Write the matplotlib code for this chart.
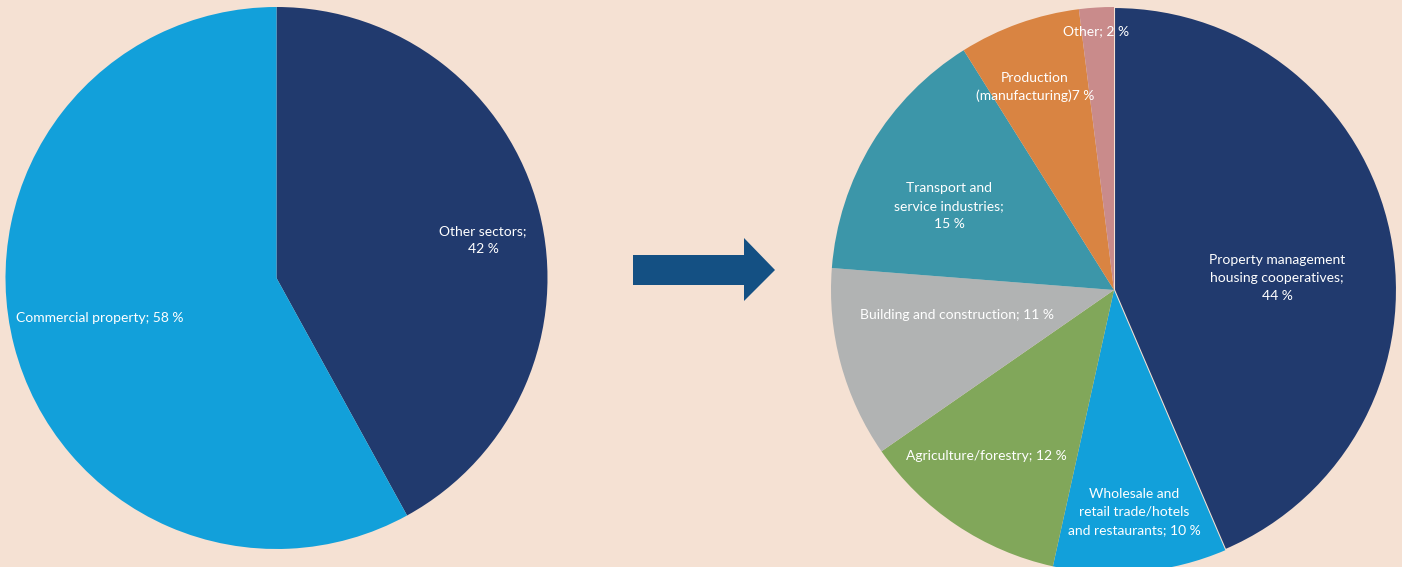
import matplotlib
matplotlib.use("Agg")
import matplotlib.pyplot as plt
from matplotlib.patches import Polygon

plt.rcParams['font.family'] = ['Lato', 'DejaVu Sans']

# left pie
left_labels = ['Other sectors;\n42 %', 'Commercial property; 58 %']
left_values = [42, 58]
left_colors = ['#213a6e', '#12a0da']

# right pie (breakdown of other sectors)
right_labels = ['Property management\nhousing cooperatives;\n44 %',
                'Wholesale and\nretail trade/hotels\nand restaurants; 10 %',
                'Agriculture/forestry; 12 %',
                'Building and construction; 11 %',
                'Transport and\nservice industries;\n15 %',
                'Production\n(manufacturing)7 %',
                'Other; 2 %']
right_values = [44, 10, 12, 11, 15, 7, 2]
right_colors = ['#213a6e', '#12a0da', '#81a75a', '#b1b3b3',
                '#3c96a9', '#d98442', '#c98b8b']

BG = '#f5e1d3'
W, H = 1402, 567

# label centres in pixels (picture coordinates)
left_lbl_px = [(483, 240), (100, 318)]
right_lbl_px = [(1277, 278), (1134, 512), (986, 456), (957, 315),
                (949, 206), (1035, 87), (1096, 31)]


def px_axes(cx, cy, r):
    return [(cx - r) / W, (H - cy - r) / H, 2 * r / W, 2 * r / H]


def draw_pie(ax, values, colors, labels, lbl_px, cx, cy, r, edge_first=False):
    wedges, _ = ax.pie(values, colors=colors, startangle=90, counterclock=False,
                       radius=1.0, wedgeprops=dict(linewidth=0))
    if edge_first:
        wedges[0].set_edgecolor(BG)
        wedges[0].set_linewidth(1.5)
    for lbl, (px, py) in zip(labels, lbl_px):
        ax.text((px - cx) / r, -(py - cy) / r, lbl, ha='center', va='center',
                color='white', fontsize=10, linespacing=1.6)
    ax.set_xlim(-1, 1)
    ax.set_ylim(-1, 1)
    ax.set_aspect('equal')
    ax.axis('off')


fig = plt.figure(figsize=(W / 100, H / 100), dpi=100, facecolor=BG)

ax1 = fig.add_axes(px_axes(276.5, 278, 271))
draw_pie(ax1, left_values, left_colors, left_labels, left_lbl_px, 276.5, 278, 271)

ax2 = fig.add_axes(px_axes(1114, 290, 283))
draw_pie(ax2, right_values, right_colors, right_labels, right_lbl_px, 1114, 290, 283,
         edge_first=True)

# arrow between the pies
arrow_px = [(633, 255), (744, 255), (744, 238), (775, 270),
            (744, 301), (744, 285), (633, 285)]
arrow = Polygon([(x / W, 1 - y / H) for x, y in arrow_px], closed=True,
                transform=fig.transFigure, facecolor='#145083', edgecolor='none')
fig.patches.append(arrow)

fig.savefig('out.png', dpi=100, facecolor=BG)
